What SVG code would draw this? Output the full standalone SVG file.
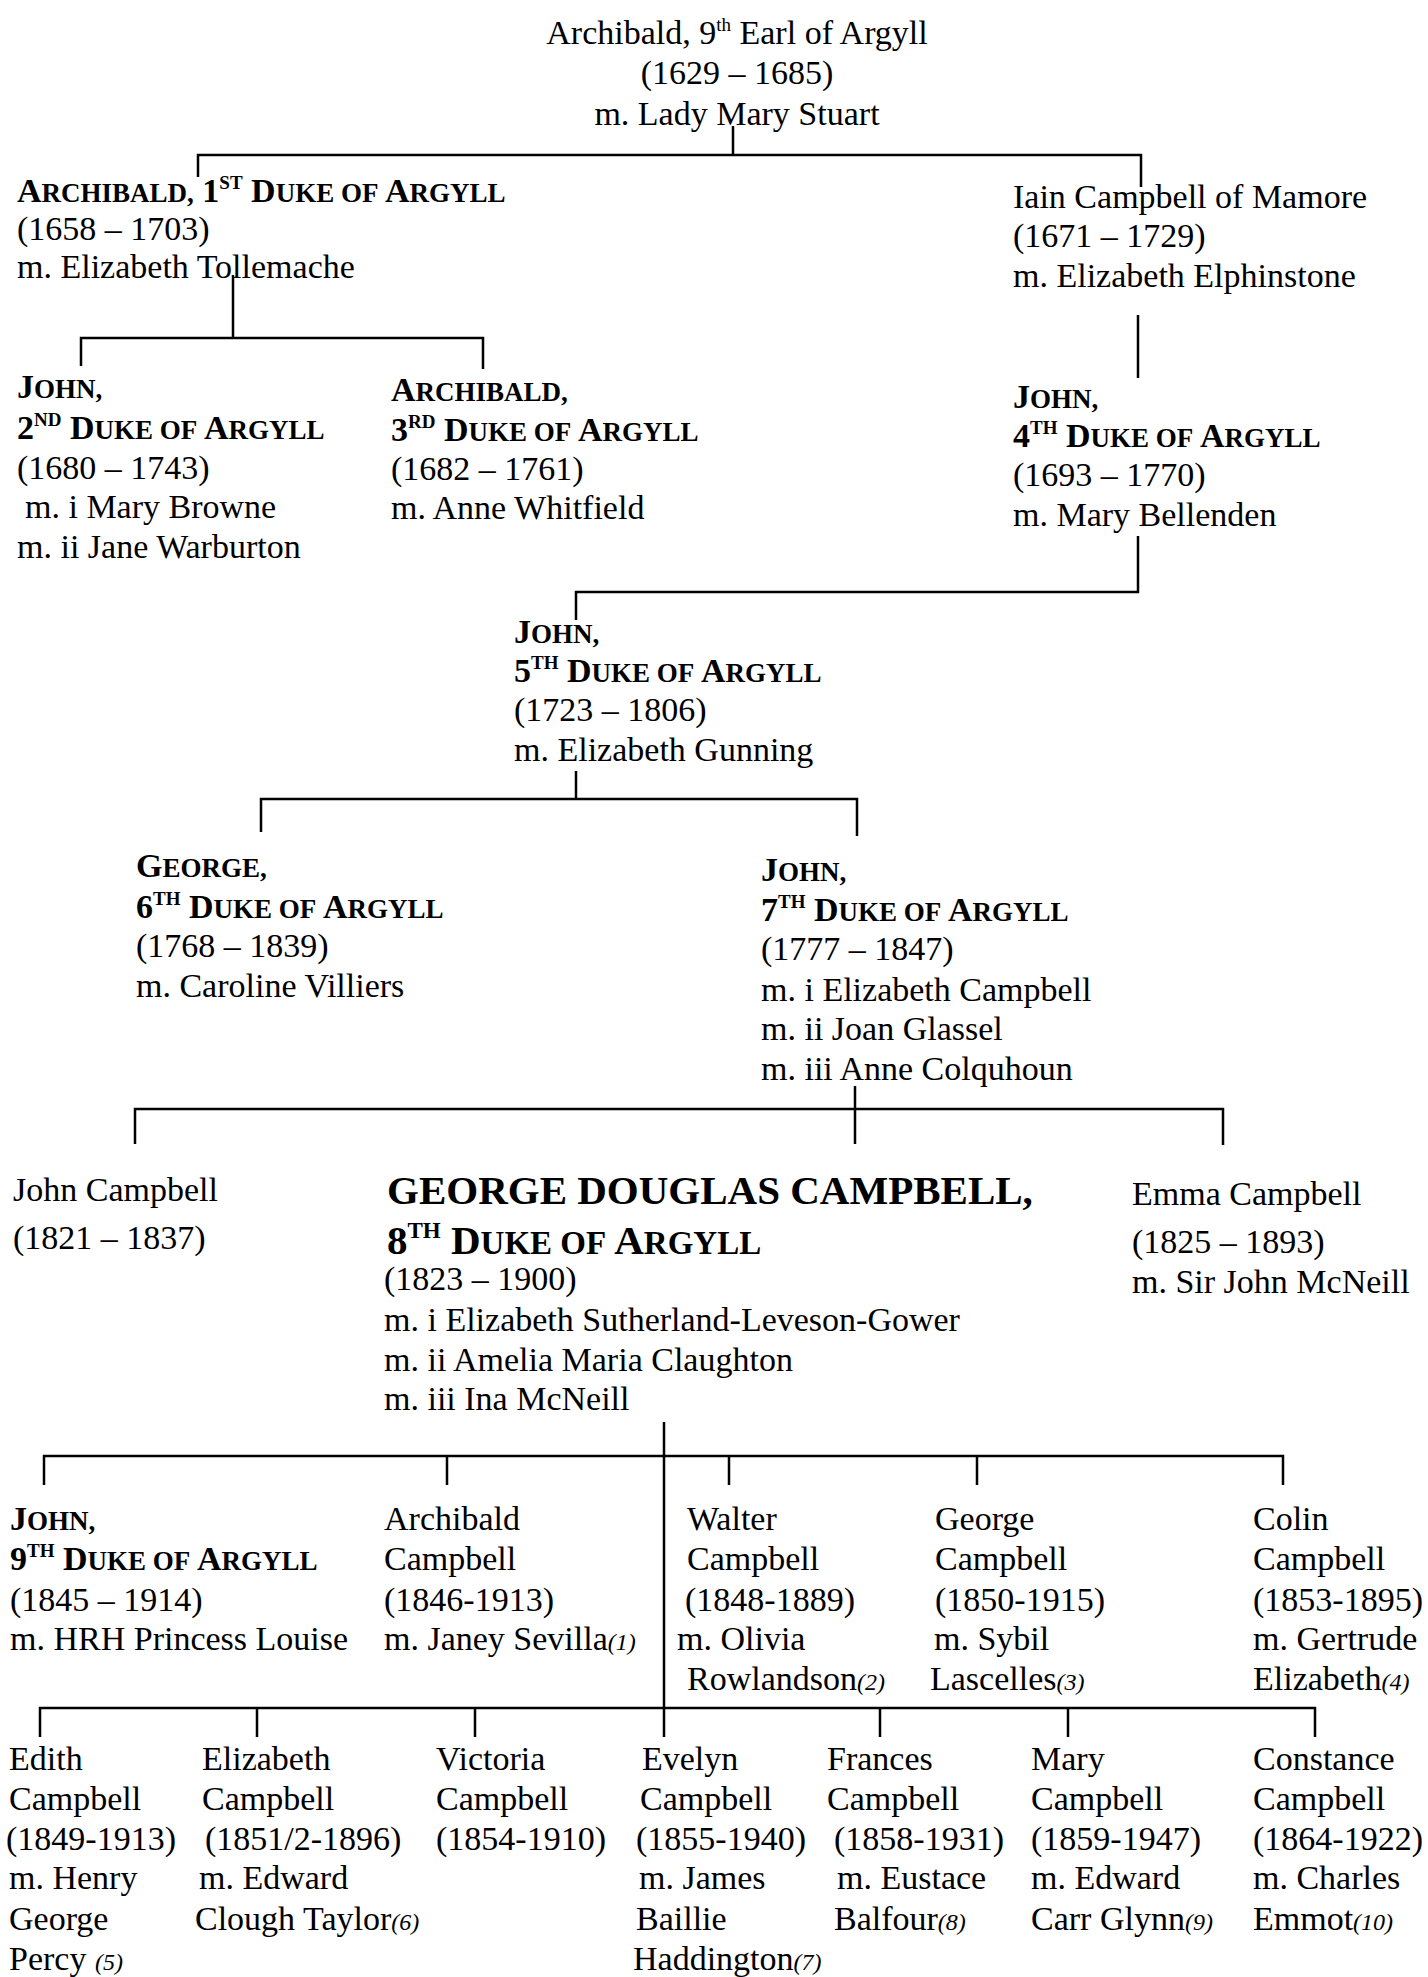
<svg xmlns="http://www.w3.org/2000/svg" width="1428" height="1977" viewBox="0 0 1428 1977">
<style>
text { font-family: "Liberation Serif", "Times New Roman", serif; font-size: 34px; fill: #000; }
.b { font-weight: bold; }
.sc { font-size: 27px; }
.sup { font-size: 19px; }
.big { font-size: 41px; }
.bsc { font-size: 33px; }
.bsup { font-size: 23px; }
.fn { font-style: italic; font-size: 24px; }
.mid { text-anchor: middle; }
.conn path { stroke: #000; stroke-width: 2.5; fill: none; }
</style>
<rect width="1428" height="1977" fill="#fff"/>

<g class="conn" id="connectors">
  <path d="M733 126 V155"/>
  <path d="M198 177 V155 H1141 V187"/>
  <path d="M233 275 V338"/>
  <path d="M81 366 V338 H483 V369"/>
  <path d="M1138 315 V378"/>
  <path d="M1138 536 V592 H576 V620"/>
  <path d="M576 771 V799"/>
  <path d="M261 832 V799 H857 V836"/>
  <path d="M855 1086 V1144"/>
  <path d="M135 1144 V1109 H1223 V1145"/>
  <path d="M664 1422 V1737"/>
  <path d="M44 1485 V1456 H1283 V1485"/>
  <path d="M447 1456 V1485"/>
  <path d="M729 1456 V1485"/>
  <path d="M977 1456 V1485"/>
  <path d="M40 1737 V1708 H1315 V1737"/>
  <path d="M257 1708 V1737"/>
  <path d="M475 1708 V1737"/>
  <path d="M880 1708 V1737"/>
  <path d="M1068 1708 V1737"/>
</g>

<g id="n-archibald-9th-earl">
  <text class="mid" x="737" y="44">Archibald, 9<tspan class="sup" dy="-13">th</tspan><tspan dy="13"> Earl of Argyll</tspan></text>
  <text class="mid" x="737" y="84">(1629 – 1685)</text>
  <text class="mid" x="737" y="125">m. Lady Mary Stuart</text>
</g>

<g id="n-archibald-1st-duke">
  <text class="b" x="17" y="202">A<tspan class="sc">RCHIBALD,</tspan> 1<tspan class="sup" dy="-13">ST</tspan><tspan dy="13"> D</tspan><tspan class="sc">UKE OF</tspan> A<tspan class="sc">RGYLL</tspan></text>
  <text x="17" y="240">(1658 – 1703)</text>
  <text x="17" y="278">m. Elizabeth Tollemache</text>
</g>

<g id="n-iain">
  <text x="1013" y="208">Iain Campbell of Mamore</text>
  <text x="1013" y="247">(1671 – 1729)</text>
  <text x="1013" y="287">m. Elizabeth Elphinstone</text>
</g>

<g id="n-john-2nd-duke">
  <text class="b" x="17" y="398">J<tspan class="sc">OHN,</tspan></text>
  <text class="b" x="17" y="439">2<tspan class="sup" dy="-13">ND</tspan><tspan dy="13"> D</tspan><tspan class="sc">UKE OF</tspan> A<tspan class="sc">RGYLL</tspan></text>
  <text x="17" y="479">(1680 – 1743)</text>
  <text x="25" y="518">m. i Mary Browne</text>
  <text x="17" y="558">m. ii Jane Warburton</text>
</g>

<g id="n-archibald-3rd-duke">
  <text class="b" x="391" y="401">A<tspan class="sc">RCHIBALD,</tspan></text>
  <text class="b" x="391" y="441">3<tspan class="sup" dy="-13">RD</tspan><tspan dy="13"> D</tspan><tspan class="sc">UKE OF</tspan> A<tspan class="sc">RGYLL</tspan></text>
  <text x="391" y="480">(1682 – 1761)</text>
  <text x="391" y="519">m. Anne Whitfield</text>
</g>

<g id="n-john-4th-duke">
  <text class="b" x="1013" y="408">J<tspan class="sc">OHN,</tspan></text>
  <text class="b" x="1013" y="447">4<tspan class="sup" dy="-13">TH</tspan><tspan dy="13"> D</tspan><tspan class="sc">UKE OF</tspan> A<tspan class="sc">RGYLL</tspan></text>
  <text x="1013" y="486">(1693 – 1770)</text>
  <text x="1013" y="526">m. Mary Bellenden</text>
</g>

<g id="n-john-5th-duke">
  <text class="b" x="514" y="643">J<tspan class="sc">OHN,</tspan></text>
  <text class="b" x="514" y="682">5<tspan class="sup" dy="-13">TH</tspan><tspan dy="13"> D</tspan><tspan class="sc">UKE OF</tspan> A<tspan class="sc">RGYLL</tspan></text>
  <text x="514" y="721">(1723 – 1806)</text>
  <text x="514" y="761">m. Elizabeth Gunning</text>
</g>

<g id="n-george-6th-duke">
  <text class="b" x="136" y="877">G<tspan class="sc">EORGE,</tspan></text>
  <text class="b" x="136" y="918">6<tspan class="sup" dy="-13">TH</tspan><tspan dy="13"> D</tspan><tspan class="sc">UKE OF</tspan> A<tspan class="sc">RGYLL</tspan></text>
  <text x="136" y="957">(1768 – 1839)</text>
  <text x="136" y="997">m. Caroline Villiers</text>
</g>

<g id="n-john-7th-duke">
  <text class="b" x="761" y="881">J<tspan class="sc">OHN,</tspan></text>
  <text class="b" x="761" y="921">7<tspan class="sup" dy="-13">TH</tspan><tspan dy="13"> D</tspan><tspan class="sc">UKE OF</tspan> A<tspan class="sc">RGYLL</tspan></text>
  <text x="761" y="960">(1777 – 1847)</text>
  <text x="761" y="1001">m. i Elizabeth Campbell</text>
  <text x="761" y="1040">m. ii Joan Glassel</text>
  <text x="761" y="1080">m. iii Anne Colquhoun</text>
</g>

<g id="n-john-campbell">
  <text x="13" y="1201">John Campbell</text>
  <text x="13" y="1249">(1821 – 1837)</text>
</g>

<g id="n-george-8th-duke">
  <text class="b big" x="387" y="1204">GEORGE DOUGLAS CAMPBELL,</text>
  <text class="b big" x="387" y="1254">8<tspan class="bsup" dy="-16">TH</tspan><tspan dy="16"> D</tspan><tspan class="bsc">UKE OF</tspan> A<tspan class="bsc">RGYLL</tspan></text>
  <text x="384" y="1290">(1823 – 1900)</text>
  <text x="384" y="1331">m. i Elizabeth Sutherland-Leveson-Gower</text>
  <text x="384" y="1371">m. ii Amelia Maria Claughton</text>
  <text x="384" y="1410">m. iii Ina McNeill</text>
</g>

<g id="n-emma">
  <text x="1132" y="1205">Emma Campbell</text>
  <text x="1132" y="1253">(1825 – 1893)</text>
  <text x="1132" y="1293">m. Sir John McNeill</text>
</g>

<g id="n-john-9th-duke">
  <text class="b" x="10" y="1530">J<tspan class="sc">OHN,</tspan></text>
  <text class="b" x="10" y="1570">9<tspan class="sup" dy="-13">TH</tspan><tspan dy="13"> D</tspan><tspan class="sc">UKE OF</tspan> A<tspan class="sc">RGYLL</tspan></text>
  <text x="10" y="1611">(1845 – 1914)</text>
  <text x="10" y="1650">m. HRH Princess Louise</text>
</g>

<g id="n-archibald-campbell">
  <text x="384" y="1530">Archibald</text>
  <text x="384" y="1570">Campbell</text>
  <text x="384" y="1611">(1846-1913)</text>
  <text x="384" y="1650">m. Janey Sevilla<tspan class="fn">(1)</tspan></text>
</g>

<g id="n-walter">
  <text x="687" y="1530">Walter</text>
  <text x="687" y="1570">Campbell</text>
  <text x="685" y="1611">(1848-1889)</text>
  <text x="677" y="1650">m. Olivia</text>
  <text x="687" y="1690">Rowlandson<tspan class="fn">(2)</tspan></text>
</g>

<g id="n-george">
  <text x="935" y="1530">George</text>
  <text x="935" y="1570">Campbell</text>
  <text x="935" y="1611">(1850-1915)</text>
  <text x="934" y="1650">m. Sybil</text>
  <text x="930" y="1690">Lascelles<tspan class="fn">(3)</tspan></text>
</g>

<g id="n-colin">
  <text x="1253" y="1530">Colin</text>
  <text x="1253" y="1570">Campbell</text>
  <text x="1253" y="1611">(1853-1895)</text>
  <text x="1253" y="1650">m. Gertrude</text>
  <text x="1253" y="1690">Elizabeth<tspan class="fn">(4)</tspan></text>
</g>

<g id="n-edith">
  <text x="9" y="1770">Edith</text>
  <text x="9" y="1810">Campbell</text>
  <text x="6" y="1850">(1849-1913)</text>
  <text x="9" y="1889">m. Henry</text>
  <text x="9" y="1930">George</text>
  <text x="9" y="1970">Percy <tspan class="fn">(5)</tspan></text>
</g>

<g id="n-elizabeth">
  <text x="202" y="1770">Elizabeth</text>
  <text x="202" y="1810">Campbell</text>
  <text x="205" y="1850">(1851/2-1896)</text>
  <text x="199" y="1889">m. Edward</text>
  <text x="195" y="1930">Clough Taylor<tspan class="fn">(6)</tspan></text>
</g>

<g id="n-victoria">
  <text x="436" y="1770">Victoria</text>
  <text x="436" y="1810">Campbell</text>
  <text x="436" y="1850">(1854-1910)</text>
</g>

<g id="n-evelyn">
  <text x="642" y="1770">Evelyn</text>
  <text x="640" y="1810">Campbell</text>
  <text x="636" y="1850">(1855-1940)</text>
  <text x="639" y="1889">m. James</text>
  <text x="636" y="1930">Baillie</text>
  <text x="633" y="1970">Haddington<tspan class="fn">(7)</tspan></text>
</g>

<g id="n-frances">
  <text x="827" y="1770">Frances</text>
  <text x="827" y="1810">Campbell</text>
  <text x="834" y="1850">(1858-1931)</text>
  <text x="837" y="1889">m. Eustace</text>
  <text x="834" y="1930">Balfour<tspan class="fn">(8)</tspan></text>
</g>

<g id="n-mary">
  <text x="1031" y="1770">Mary</text>
  <text x="1031" y="1810">Campbell</text>
  <text x="1031" y="1850">(1859-1947)</text>
  <text x="1031" y="1889">m. Edward</text>
  <text x="1031" y="1930">Carr Glynn<tspan class="fn">(9)</tspan></text>
</g>

<g id="n-constance">
  <text x="1253" y="1770">Constance</text>
  <text x="1253" y="1810">Campbell</text>
  <text x="1253" y="1850">(1864-1922)</text>
  <text x="1253" y="1889">m. Charles</text>
  <text x="1253" y="1930">Emmot<tspan class="fn">(10)</tspan></text>
</g>
</svg>
